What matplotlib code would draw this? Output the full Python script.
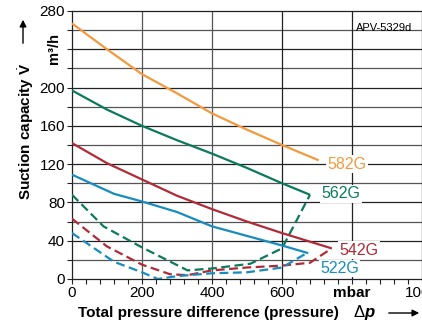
import matplotlib.pyplot as plt
import numpy as np

plt.rcParams["font.family"] = ["Liberation Sans", "DejaVu Sans"]
plt.rcParams["mathtext.fontset"] = "custom"
plt.rcParams["mathtext.rm"] = "Liberation Sans"
plt.rcParams["mathtext.bf"] = "Liberation Sans:bold"
plt.rcParams["mathtext.it"] = "Liberation Sans:italic:bold"

# pumping curves, x in mbar, y in m3/h
X_582 = [0, 100, 200, 300, 400, 500, 600, 705]
Y_582 = [267, 240, 214, 194, 173, 156, 140, 124]

X_562 = [0, 100, 200, 300, 400, 500, 600, 680]
Y_562 = [197, 177, 160, 145, 131, 116, 100, 88]
X_562_D = [0, 90, 200, 330, 400, 510, 600, 680]
Y_562_D = [88, 55, 33, 9, 11, 16, 32, 88]

X_542 = [0, 100, 200, 300, 400, 500, 600, 742]
Y_542 = [142, 121, 104, 87, 73, 60, 48, 32]
X_542_D = [0, 100, 200, 280, 330, 400, 500, 600, 680, 742]
Y_542_D = [63, 34, 15, 5, 4, 9, 12, 14, 17, 32]

X_522 = [0, 120, 200, 300, 400, 500, 600, 675]
Y_522 = [109, 89, 81, 70, 55, 45, 35, 27]
X_522_D = [0, 120, 200, 245, 300, 400, 500, 600, 675]
Y_522_D = [48, 18, 7, 0, 3, 6, 7, 12, 28]

LABELS = ["582G", "562G", "542G", "522G"]
LABEL_POS = [(731, 120), (713, 89), (764, 30), (709, 11)]
COLORS = ["#f39a3e", "#0b7a5c", "#b02a37", "#178cbf"]

X_TICKS = [0, 200, 400, 600, 800, 1000]
X_TICK_LABELS = ["0", "200", "400", "600", "mbar", "1000"]
Y_TICKS = [0, 40, 80, 120, 160, 200, 240, 280]
Y_TICK_LABELS = ["0", "40", "80", "120", "160", "200", "", "280"]


def main():
    fig = plt.figure(figsize=(4.22, 3.24), dpi=100)
    ax = fig.add_axes([72 / 422, 45 / 324, 350 / 422, 268 / 324])

    ax.set_xlim(0, 1000)
    ax.set_ylim(0, 280)

    for y in range(20, 280, 20):
        ax.axhline(y, color="#222222" if y % 40 == 0 else "#555555", lw=0.9, zorder=1)
    for x in [200, 400, 600, 800]:
        ax.axvline(x, color="#555555" if x < 600 else "#222222", lw=0.9, zorder=1)

    solid = [(X_582, Y_582), (X_562, Y_562), (X_542, Y_542), (X_522, Y_522)]
    dashed = [None, (X_562_D, Y_562_D), (X_542_D, Y_542_D), (X_522_D, Y_522_D)]
    for i, color in enumerate(COLORS):
        ax.plot(solid[i][0], solid[i][1], color=color, lw=1.6, zorder=3,
                solid_capstyle="butt")
        if dashed[i] is not None:
            ax.plot(dashed[i][0], dashed[i][1], color=color, lw=1.6, zorder=3,
                    dashes=(4, 2))

    for label, (lx, ly), color in zip(LABELS, LABEL_POS, COLORS):
        ax.text(lx, ly, label, color=color, fontsize=11.5, va="center", ha="left",
                zorder=4,
                bbox=dict(facecolor="white", edgecolor="none", pad=1.0))

    ax.text(810, 262, "APV-5329d", fontsize=8, va="center", ha="left", zorder=4)

    ax.set_xticks(X_TICKS)
    ax.set_xticklabels(X_TICK_LABELS, fontsize=11)
    ax.get_xticklabels()[4].set_fontweight("bold")
    ax.set_xticks(np.arange(0, 1001, 40), minor=True)
    ax.set_yticks(Y_TICKS)
    ax.set_yticklabels(Y_TICK_LABELS, fontsize=11)
    ax.set_yticks(np.arange(0, 281, 20), minor=True)
    ax.tick_params(which="both", direction="out", length=3.5, width=0.8,
                   color="#222222", pad=1.5)

    for spine in ax.spines.values():
        spine.set_linewidth(0.9)
        spine.set_color("#222222")

    # y axis label with arrow
    fig.text(26 / 422, 1 - 131 / 324, r"Suction capacity $\dot{\mathbf{V}}$",
             rotation=90, fontsize=11, fontweight="bold", ha="center", va="center")
    fig.text(54 / 422, 1 - 49 / 324, "m³/h", rotation=90, fontsize=10.5,
             fontweight="bold", ha="center", va="center")
    ax.annotate("", xy=(23 / 422, 1 - 17 / 324), xytext=(23 / 422, 1 - 46 / 324),
                xycoords="figure fraction", textcoords="figure fraction",
                arrowprops=dict(arrowstyle="-|>", color="black", lw=1.0,
                                mutation_scale=10))

    # x axis label with arrow
    fig.text(78 / 422, 11 / 324, "Total pressure difference (pressure)",
             fontsize=11, fontweight="bold", ha="left", va="center")
    fig.text(353 / 422, 11 / 324, r"$\Delta p$", fontsize=12, ha="left", va="center")
    ax.annotate("", xy=(422 / 422, 11 / 324), xytext=(386 / 422, 11 / 324),
                xycoords="figure fraction", textcoords="figure fraction",
                arrowprops=dict(arrowstyle="-|>", color="black", lw=1.0,
                                mutation_scale=10))

    fig.savefig("out.png", dpi=100)
    plt.close(fig)


if __name__ == "__main__":
    main()
